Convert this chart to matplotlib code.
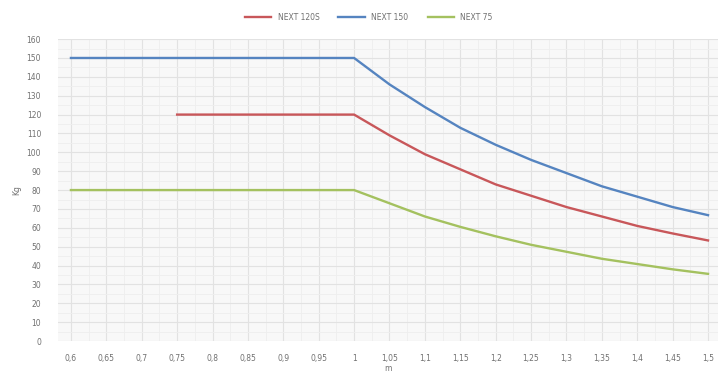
import numpy as np
import matplotlib.pyplot as plt
from matplotlib.ticker import MultipleLocator

# lunghezza (m)
m_labels = ['0,6', '0,65', '0,7', '0,75', '0,8', '0,85', '0,9', '0,95', '1',
            '1,05', '1,1', '1,15', '1,2', '1,25', '1,3', '1,35', '1,4', '1,45', '1,5']

# portata (Kg)
next150 = [150, 150, 150, 150, 150, 150, 150, 150, 150,
           136, 124, 113, 104, 96, 89, 82, 76.5, 71, 66.7]
next120s = [None, None, None, 120, 120, 120, 120, 120, 120,
            109, 99, 91, 83, 77, 71, 66, 61, 57, 53.3]
next75 = [80, 80, 80, 80, 80, 80, 80, 80, 80,
          73, 66, 60.5, 55.5, 51, 47.3, 43.6, 40.8, 38, 35.6]

x = np.arange(len(m_labels))
red = np.array([np.nan if v is None else v for v in next120s], dtype=float)

fig = plt.figure(figsize=(7.23, 3.76), dpi=100)
ax = fig.add_axes([0.08, 0.093, 0.913, 0.803])
ax.set_facecolor('#f8f8f8')

ax.plot(x, red, color='#c8575a', lw=1.7, label='NEXT 120S')
ax.plot(x, next150, color='#5584c0', lw=1.7, label='NEXT 150')
ax.plot(x, next75, color='#a4c15f', lw=1.7, label='NEXT 75')

ax.set_xlim(-0.37, 18.28)
ax.set_ylim(0, 160)
ax.set_xticks(x)
ax.set_xticklabels(m_labels)
ax.yaxis.set_major_locator(MultipleLocator(10))
ax.yaxis.set_minor_locator(MultipleLocator(5))
ax.set_xticks(x[:-1] + 0.5, minor=True)
ax.grid(which='major', color='#e2e2e2', lw=0.8)
ax.grid(which='minor', color='#eeeeee', lw=0.6)
ax.set_axisbelow(True)

for s in ax.spines.values():
    s.set_visible(False)
ax.tick_params(which='both', length=0, labelsize=5.5, colors='#707070')
ax.tick_params(axis='x', pad=9)
ax.tick_params(axis='y', pad=12)

ax.set_xlabel('m', fontsize=5.5, color='#707070', labelpad=1)
ax.set_ylabel('Kg', fontsize=5.5, color='#707070', labelpad=4)

fig.legend(loc='upper center', bbox_to_anchor=(0.51, 0.985), ncol=3, frameon=False,
           fontsize=5.5, handlelength=3.5, columnspacing=2.5, labelcolor='#707070')

fig.savefig('out.png', dpi=100)
